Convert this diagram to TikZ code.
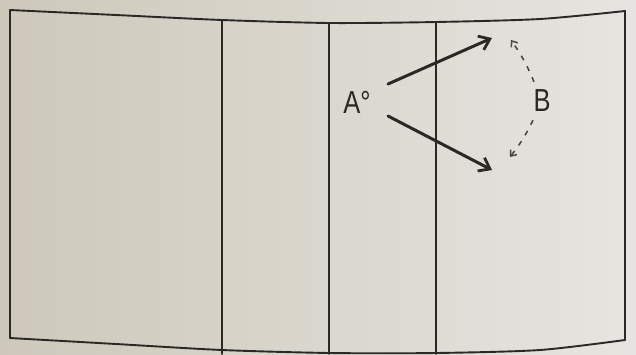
\documentclass[tikz,border=0pt]{standalone}
\usepackage{fontspec}
\setmainfont{Liberation Sans}
\newfontfamily\handfont[FakeStretch=0.8]{Liberation Sans}
\usetikzlibrary{arrows.meta}
\definecolor{ink}{HTML}{2A2926}
\definecolor{bgL}{HTML}{CDC8BA}
\definecolor{bgR}{HTML}{E6E5E1}
\begin{document}
\begin{tikzpicture}[x=1bp,y=-1bp,
  frameline/.style={line width=1.9bp, draw=ink, line cap=round, line join=round},
  mainarrow/.style={line width=3bp, draw=ink, line cap=round, -{Straight Barb[length=10bp,width=15bp,line width=2.8bp]}},
  dasharrow/.style={line width=1.6bp, draw=ink!85, dash pattern=on 5bp off 7bp, -{Straight Barb[length=5bp,width=8bp,line width=1.5bp]}},
  letter/.style={text=ink, inner sep=0pt, font=\handfont\fontsize{32}{32}\selectfont}]
\fill[left color=bgL, right color=bgR] (0,0) rectangle (636,354);
\useasboundingbox (0,0) rectangle (636,354);
% frame
\draw[frameline] plot[smooth, tension=0.45] coordinates {(10,10) (116,15) (222,20) (330,23) (436,22) (540,19) (625,11)};
\draw[frameline] plot[smooth, tension=0.45] coordinates {(10,338) (116,344) (222,350) (330,353) (436,353) (540,350) (625,340)};
\draw[frameline] (10,10) -- (10,338);
\draw[frameline] (222,20) -- (222,354);
\draw[frameline] (329,23) -- (329,354);
\draw[frameline] (436,22) -- (436,354);
\draw[frameline] (625,11) -- (625,340);
% labels
\node[letter] (A) at (357,102) {A\textdegree};
\node[letter] (B) at (542,101) {B};
\coordinate (t1) at (492,38);
\coordinate (t2) at (492,170);
\coordinate (d1) at (511,40);
\coordinate (d2) at (510,157);
\draw[mainarrow] (388,84) -- (t1);
\draw[mainarrow] (388,116) -- (t2);
\draw[dasharrow] (B.north) ++(-8,-8) to[bend right=6] (d1);
\draw[dasharrow] (B.south) ++(-9,8) to[bend left=6] (d2);
\end{tikzpicture}
\end{document}
